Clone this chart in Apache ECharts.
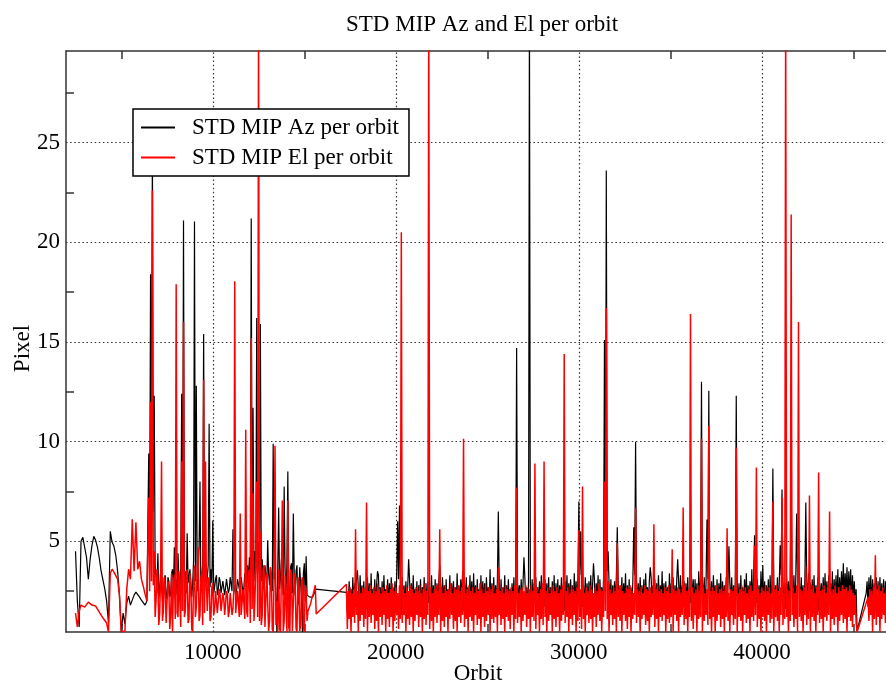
<!DOCTYPE html>
<html>
<head>
<meta charset="utf-8">
<script src="https://cdn.jsdelivr.net/npm/echarts@6/dist/echarts.min.js"></script>
<style>html,body{margin:0;padding:0;background:#fff}#c{width:886px;height:682px}</style>
</head>
<body>
<div id="c"></div>
<script>
// ---- Data ----
// Three sampled stretches of orbits: [first orbit, orbit spacing]
const earlyOrbits = [2500, 100];   // 2500 .. 6400
const midOrbits   = [6500, 50];    // 6500 .. 15700
const lateOrbits  = [17300, 50];   // 17300 .. 46900 (no data 15700-17300: line bridges it)

// STD MIP Az per orbit (black)
const azEarly = [
  4.5, 2.0, 0.7, 5.0, 5.2, 5.1, 4.2, 3.1, 4.1, 4.8,
  5.25, 5.05, 4.7, 4.15, 3.5, 3.05, 2.6, 2.0, 0.9, 5.5,
  4.95, 4.75, 4.3, 3.5, 2.3, 0.45, 1.4, 0.85, 1.9, 2.25,
  1.8, 2.05, 2.3, 2.45, 2.5, 2.2, 2.05, 1.95, 1.8, 2.0
];
const azMid = [
  9.4, 5.0, 18.4, 8.0, 25.0, 6.5, 12.3, 3.8, 3.2, 2.4, 4.4, 2.1, 2.6, 3.5, 3.4, 2.0, 2.2, 3.1, 3.3, 2.3,
  2.1, 3.2, 3.0, 2.2, 2.4, 3.4, 3.6, 2.5, 4.7, 2.8, 3.1, 2.3, 4.4, 3.0, 2.6, 3.7, 12.4, 2.9, 21.1, 3.3,
  3.5, 2.4, 5.4, 2.9, 2.8, 3.6, 3.7, 2.2, 2.9, 4.0, 21.05, 3.0, 12.8, 2.5, 3.4, 4.7, 8.0, 2.6, 3.1, 3.9,
  15.4, 3.1, 4.0, 2.5, 3.2, 3.8, 10.9, 2.7, 3.6, 2.9, 6.05, 2.4, 2.7, 3.1, 3.3, 2.3, 2.6, 3.2, 3.0, 2.4,
  2.5, 3.0, 2.9, 2.3, 2.4, 3.1, 3.1, 2.4, 2.6, 3.2, 3.2, 2.5, 5.6, 2.8, 2.9, 2.3, 2.5, 3.1, 3.0, 2.6,
  2.6, 3.2, 3.1, 2.4, 2.7, 3.4, 3.3, 2.6, 3.8, 2.9, 4.2, 3.3, 21.2, 3.5, 11.7, 3.0, 4.5, 3.6, 16.2, 3.4,
  5.0, 3.3, 15.9, 3.0, 4.1, 2.6, 3.2, 3.8, 3.9, 2.7, 5.05, 3.4, 2.8, 3.7, 3.6, 2.5, 9.9, 3.1, 3.4, 2.2,
  0.45, 3.6, 6.7, 2.6, 3.2, 4.1, 4.0, 2.3, 7.75, 3.5, 2.5, 3.9, 8.5, 2.8, 0.5, 3.7, 3.9, 2.4, 6.4, 3.3,
  2.3, 3.5, 3.8, 1.8, 2.0, 3.7, 3.6, 2.1, 0.45, 3.4, 3.9, 2.0, 4.25, 2.3, 2.2, 2.2, 2.2, 2.2, 2.2, 2.2,
  2.25, 2.4, 2.6, 2.62, 2.63
];
const azLate = [
  2.44, 1.4, 1.6, 3.0, 1.9, 2.6, 1.5, 3.2, 1.8, 2.9, 1.7, 3.1, 3.55, 2.7, 1.6, 3.3, 1.9, 2.8, 1.5, 3.0,
  1.8, 2.7, 1.6, 3.2, 1.9, 2.9, 1.4, 3.4, 1.7, 2.6, 2.0, 3.1, 1.6, 2.8, 3.5, 3.3, 1.8, 2.7, 1.5, 3.0,
  1.7, 3.3, 1.9, 2.6, 1.5, 3.1, 1.8, 2.9, 1.6, 3.2, 2.0, 2.7, 1.4, 3.0, 1.7, 3.4, 6.0, 3.1, 6.8, 2.6,
  1.3, 3.2, 1.8, 2.8, 1.6, 3.0, 1.9, 2.7, 4.1, 3.1, 1.5, 2.9, 1.7, 3.3, 1.8, 2.6, 1.6, 3.0, 1.4, 2.8,
  1.9, 3.1, 1.6, 2.7, 1.8, 3.2, 1.5, 2.9, 1.7, 3.0, 1.9, 2.6, 1.6, 3.3, 1.8, 2.8, 1.5, 3.1, 1.7, 2.9,
  1.8, 3.0, 3.8, 2.7, 1.6, 3.2, 1.9, 2.8, 1.5, 3.1, 1.7, 2.6, 1.8, 3.3, 1.6, 2.9, 1.9, 3.0, 1.4, 2.7,
  1.7, 3.4, 1.8, 2.8, 1.6, 3.1, 1.9, 3.5, 1.5, 2.9, 1.7, 3.2, 1.8, 2.7, 1.6, 3.3, 1.9, 3.0, 1.5, 3.4,
  1.8, 2.8, 1.6, 3.1, 1.9, 2.6, 1.7, 3.3, 1.5, 3.0, 1.8, 2.9, 1.6, 3.2, 1.9, 2.7, 1.7, 3.6, 1.5, 2.9,
  1.8, 3.2, 1.6, 2.8, 1.9, 3.0, 6.5, 2.9, 1.7, 3.1, 1.5, 2.7, 1.8, 3.3, 1.6, 2.8, 1.9, 3.1, 1.7, 2.6,
  1.5, 2.9, 1.8, 3.2, 1.6, 2.7, 14.7, 3.0, 1.9, 2.8, 1.7, 3.1, 1.6, 2.9, 4.2, 3.2, 1.8, 2.7, 1.5, 3.0,
  32, 2.8, 1.7, 3.1, 1.6, 2.9, 1.9, 3.2, 1.5, 2.7, 1.8, 3.0, 1.6, 3.3, 1.9, 2.8, 1.7, 3.1, 1.5, 2.9,
  1.8, 3.2, 1.6, 2.7, 1.9, 3.0, 1.7, 3.3, 1.5, 2.9, 1.8, 3.1, 1.6, 2.8, 1.9, 3.2, 1.7, 2.6, 1.5, 3.0,
  1.8, 3.3, 1.6, 2.9, 1.9, 3.1, 1.7, 2.8, 1.5, 3.4, 1.8, 3.0, 1.6, 3.2, 7.0, 3.3, 5.5, 3.0, 1.7, 2.8,
  1.6, 3.2, 1.8, 2.9, 1.5, 3.0, 1.9, 3.3, 1.7, 2.8, 3.9, 3.1, 1.6, 2.9, 1.8, 3.3, 1.5, 3.1, 1.9, 2.7,
  1.7, 3.2, 15.1, 3.0, 23.6, 3.5, 4.5, 2.9, 1.8, 3.1, 1.6, 2.8, 1.9, 3.0, 1.7, 3.3, 5.7, 3.0, 1.6, 2.8,
  1.8, 3.2, 1.6, 2.9, 1.9, 3.4, 1.5, 2.8, 1.7, 3.1, 1.8, 2.7, 1.6, 3.0, 5.7, 3.3, 10.0, 3.1, 1.8, 2.9,
  1.6, 3.2, 1.9, 2.8, 1.7, 3.1, 1.5, 3.4, 1.8, 2.7, 1.6, 3.0, 3.7, 3.2, 1.9, 2.8, 1.7, 3.1, 1.5, 2.9,
  1.8, 3.3, 1.6, 2.8, 1.9, 3.5, 1.7, 2.9, 1.5, 3.0, 1.8, 2.7, 1.6, 3.4, 1.9, 2.9, 1.7, 3.2, 1.5, 2.8,
  1.8, 3.1, 4.1, 3.0, 1.6, 3.3, 1.9, 2.8, 1.7, 3.0, 1.5, 2.9, 1.8, 3.2, 1.6, 2.7, 1.9, 3.4, 1.7, 3.1,
  1.5, 3.1, 1.8, 2.9, 1.6, 3.5, 1.9, 3.2, 13.0, 3.0, 1.7, 3.2, 1.5, 2.9, 6.1, 3.1, 12.55, 2.9, 1.8, 3.0,
  1.6, 3.3, 1.9, 2.8, 1.7, 3.1, 1.5, 2.9, 1.8, 3.4, 1.6, 3.0, 1.9, 2.8, 1.7, 3.2, 1.5, 3.0, 4.75, 2.9,
  1.8, 3.2, 1.6, 2.8, 1.9, 3.0, 12.3, 3.1, 1.7, 2.9, 1.5, 3.3, 1.8, 2.7, 1.6, 3.1, 1.9, 3.4, 1.7, 2.8,
  1.5, 3.0, 1.8, 3.6, 1.6, 3.2, 5.3, 2.9, 1.9, 3.1, 1.7, 2.8, 1.5, 3.5, 1.8, 3.8, 1.6, 3.0, 1.9, 2.8,
  1.7, 3.1, 1.5, 3.3, 1.8, 2.9, 8.65, 3.0, 1.6, 2.8, 1.9, 3.2, 1.7, 2.9, 4.8, 3.3, 7.6, 3.0, 1.8, 2.9,
  1.6, 3.2, 1.9, 3.0, 1.7, 3.1, 8.2, 2.9, 1.5, 3.3, 1.8, 3.0, 6.4, 3.2, 4.0, 2.9, 1.7, 3.2, 1.9, 2.8,
  1.6, 3.1, 6.95, 3.0, 1.8, 3.4, 1.5, 2.9, 1.9, 3.1, 1.7, 3.3, 1.6, 2.8, 1.8, 3.2, 1.5, 3.0, 1.9, 2.9,
  1.7, 3.2, 1.6, 3.4, 1.9, 3.0, 1.5, 3.3, 1.8, 2.9, 1.7, 3.5, 1.6, 3.1, 1.9, 3.3, 1.8, 3.6, 1.7, 3.2,
  2.0, 3.5, 2.2, 3.9, 2.1, 3.4, 2.3, 3.7, 2.0, 3.5, 2.2, 3.6, 1.9, 3.3, 2.1, 3.0, 1.8, 2.6, 0.5, null,
  null, null, null, null, null, null, null, null, 2.4, 3.0, 1.7, 3.2, 1.9, 3.3, 1.6, 3.1, 1.8, 2.9, 1.5, 3.2,
  1.8, 3.0, 1.6, 3.2, 1.9, 2.9, 1.7, 3.1, 1.5, 3.0, 1.8, 2.9, 2.6
];

// STD MIP El per orbit (red)
const elEarly = [
  1.4, 0.7, 1.5, 1.8, 1.85, 1.7, 1.8, 1.95, 2.05, 1.8,
  1.7, 1.75, 1.65, 1.45, 1.3, 1.15, 1.05, 0.9, 0.45, 3.4,
  3.6, 3.45, 3.4, 3.1, 2.3, 0.45, 0.45, 0.5, 2.6, 3.6,
  3.1, 6.1, 3.5, 5.95, 3.6, 4.0, 3.1, 2.75, 2.35, 2.0
];
const elMid = [
  7.2, 2.5, 12.0, 3.0, 22.6, 2.8, 4.5, 1.2, 2.0, 3.6, 3.1, 0.8, 1.4, 3.3, 9.0, 1.0, 1.5, 3.2, 2.8, 0.9,
  0.8, 3.0, 2.6, 0.6, 1.3, 3.4, 0.45, 2.9, 3.3, 1.1, 17.9, 1.4, 1.2, 3.5, 3.4, 0.7, 9.0, 1.5, 16.0, 1.2,
  1.5, 3.2, 3.6, 0.9, 1.1, 3.4, 2.9, 0.6, 0.45, 3.0, 3.8, 1.2, 1.7, 3.6, 4.7, 1.0, 1.3, 3.1, 3.4, 0.8,
  13.1, 1.4, 9.0, 2.8, 1.5, 3.0, 3.2, 1.0, 1.2, 2.7, 2.9, 1.3, 1.6, 2.5, 2.4, 1.4, 1.4, 2.6, 2.3, 1.5,
  1.5, 2.4, 2.1, 1.3, 1.4, 2.5, 2.3, 1.2, 1.5, 2.4, 2.5, 1.3, 1.6, 2.6, 18.05, 1.4, 1.5, 2.5, 2.6, 1.2,
  6.4, 1.3, 1.4, 2.6, 2.7, 1.1, 10.6, 1.5, 1.2, 3.4, 3.6, 0.9, 15.2, 1.6, 7.4, 1.0, 2.0, 3.7, 8.0, 1.2,
  32, 1.0, 5.5, 0.8, 1.3, 3.6, 3.8, 0.7, 0.6, 3.4, 3.5, 0.5, 1.0, 3.7, 3.2, 0.6, 0.45, 3.3, 9.8, 0.8,
  2.0, 0.45, 3.6, 0.6, 0.45, 3.5, 7.05, 0.5, 1.0, 3.3, 3.4, 0.45, 7.05, 0.7, 0.45, 3.6, 3.3, 0.5, 0.6, 3.4,
  3.0, 0.6, 0.45, 3.2, 2.9, 0.5, 0.8, 3.0, 3.2, 0.7, 0.45, 2.8, 2.5, 1.0, 1.5, 1.6, 1.75, 1.9, 2.1, 2.25,
  2.4, 2.6, 2.8, 1.35, 1.3
];
const elLate = [
  2.85, 0.6, 2.5, 1.1, 2.7, 0.45, 2.4, 1.2, 2.6, 0.9, 5.6, 1.3, 2.5, 0.45, 2.8, 1.0, 2.4, 1.3, 2.7, 0.7,
  2.6, 1.1, 6.95, 0.45, 2.5, 1.2, 2.8, 0.9, 2.4, 1.3, 2.7, 0.6, 2.5, 1.0, 2.9, 0.45, 2.6, 1.2, 2.4, 0.8,
  2.7, 1.3, 2.5, 0.45, 2.8, 1.1, 2.4, 0.7, 2.6, 1.2, 2.9, 0.45, 2.5, 1.0, 2.7, 1.3, 2.4, 0.6, 2.8, 1.1,
  20.5, 0.9, 2.6, 1.3, 2.4, 0.45, 2.7, 1.1, 2.5, 0.8, 2.8, 1.2, 2.6, 0.45, 2.4, 1.0, 2.7, 1.3, 2.5, 0.7,
  2.8, 1.2, 2.4, 0.45, 2.6, 1.1, 2.9, 0.8, 2.5, 1.3, 32, 0.6, 2.7, 1.0, 2.4, 0.45, 2.6, 1.2, 2.8, 0.9,
  2.5, 1.3, 5.6, 0.45, 2.7, 1.0, 2.4, 0.7, 2.8, 1.2, 2.5, 0.45, 2.6, 1.1, 2.9, 1.3, 2.4, 0.6, 2.7, 1.0,
  2.6, 0.45, 2.8, 1.2, 2.5, 0.9, 2.7, 1.3, 10.15, 0.7, 2.4, 1.1, 2.6, 0.45, 2.8, 1.2, 2.5, 1.0, 2.7, 0.45,
  2.4, 1.3, 2.7, 0.8, 2.5, 1.1, 2.9, 0.45, 2.6, 1.2, 2.4, 0.7, 2.8, 1.0, 2.5, 1.3, 2.7, 0.45, 2.6, 1.1,
  2.8, 0.9, 2.4, 1.2, 2.6, 0.45, 3.7, 1.3, 2.5, 0.8, 2.7, 1.1, 2.4, 0.45, 2.8, 1.2, 2.6, 1.0, 2.5, 0.6,
  2.7, 1.3, 2.5, 0.45, 2.8, 1.1, 7.7, 0.9, 2.4, 1.2, 2.6, 0.45, 2.7, 1.0, 2.5, 1.3, 2.8, 0.7, 2.4, 1.1,
  2.6, 0.45, 2.8, 1.2, 2.5, 1.0, 8.9, 0.6, 2.7, 1.3, 2.4, 0.45, 2.6, 1.1, 2.9, 0.8, 9.0, 1.2, 2.5, 0.45,
  2.7, 1.0, 2.4, 1.3, 2.6, 0.45, 2.8, 1.1, 2.5, 0.7, 2.7, 1.2, 2.4, 0.45, 2.6, 1.0, 2.8, 1.3, 14.4, 0.9,
  2.5, 1.2, 2.7, 0.45, 2.4, 1.1, 2.8, 0.8, 2.6, 1.3, 2.5, 0.45, 2.7, 1.0, 5.55, 1.2, 2.6, 0.6, 7.75, 1.1,
  2.4, 0.45, 2.7, 1.3, 2.5, 0.9, 2.8, 1.1, 2.6, 0.45, 2.4, 1.2, 2.7, 0.7, 2.5, 1.3, 2.9, 1.0, 2.6, 0.45,
  2.5, 1.2, 8.0, 1.5, 16.7, 1.1, 3.0, 0.45, 2.6, 1.3, 2.4, 0.8, 2.7, 1.1, 2.5, 0.45, 4.9, 1.2, 2.6, 1.0,
  2.8, 0.45, 2.5, 1.3, 2.4, 1.0, 2.7, 0.6, 2.6, 1.2, 2.8, 0.45, 2.5, 1.1, 2.4, 1.3, 6.7, 0.9, 2.6, 1.2,
  2.5, 0.45, 2.7, 1.1, 2.4, 1.3, 2.8, 0.8, 2.6, 1.0, 2.5, 0.45, 2.7, 1.2, 2.4, 1.3, 5.85, 0.7, 2.6, 1.1,
  2.8, 0.45, 2.5, 1.2, 2.6, 1.0, 2.4, 1.3, 2.7, 0.45, 2.5, 1.1, 2.8, 0.9, 2.4, 1.2, 4.6, 0.45, 2.6, 1.3,
  2.5, 1.0, 2.7, 0.45, 2.6, 1.2, 2.4, 1.3, 6.7, 0.8, 2.8, 1.1, 2.5, 0.45, 2.6, 1.2, 16.4, 1.0, 2.7, 0.6,
  2.4, 1.3, 2.6, 0.45, 2.8, 1.1, 2.5, 1.2, 10.15, 0.45, 2.7, 1.0, 2.4, 1.3, 2.6, 0.8, 10.8, 1.1, 2.5, 0.45,
  2.7, 1.2, 2.5, 0.45, 2.8, 1.0, 2.4, 1.3, 2.6, 0.7, 2.7, 1.1, 2.5, 0.45, 2.8, 1.2, 5.65, 1.0, 2.4, 0.45,
  2.6, 1.3, 2.5, 0.8, 2.7, 1.1, 9.7, 0.45, 2.4, 1.2, 2.6, 1.0, 2.8, 0.45, 2.5, 1.3, 2.7, 0.9, 2.4, 1.1,
  2.6, 0.45, 2.8, 1.2, 2.5, 1.0, 4.8, 1.3, 8.7, 0.7, 2.6, 1.1, 2.4, 0.45, 2.7, 1.2, 2.5, 1.0, 2.8, 0.45,
  2.5, 1.3, 2.7, 0.9, 2.4, 1.1, 7.0, 0.45, 2.6, 1.2, 2.8, 1.0, 2.5, 0.45, 2.7, 1.3, 7.2, 0.8, 2.4, 1.1,
  32, 1.2, 2.6, 0.45, 2.5, 1.0, 21.4, 1.3, 2.7, 0.7, 2.4, 1.1, 2.8, 0.45, 16.0, 1.2, 2.6, 1.0, 2.5, 0.45,
  2.7, 1.3, 3.75, 0.8, 2.5, 1.1, 7.3, 0.45, 2.6, 1.2, 2.8, 1.0, 2.4, 0.45, 2.7, 1.3, 8.45, 0.9, 2.5, 1.1,
  2.6, 0.45, 2.8, 1.2, 2.4, 1.0, 2.7, 1.3, 6.5, 0.45, 2.5, 1.1, 2.6, 0.8, 2.8, 1.2, 2.4, 0.45, 2.7, 1.0,
  2.5, 1.3, 2.8, 0.9, 2.6, 1.1, 2.7, 0.45, 2.5, 1.2, 2.8, 1.0, 2.6, 0.7, 2.4, 1.3, 2.3, 0.9, 0.45, null,
  null, null, null, null, null, null, null, null, null, null, 2.2, 1.0, 2.6, 1.3, 2.5, 0.45, 2.7, 1.1, 4.3, 0.8,
  2.6, 1.2, 2.8, 0.45, 2.5, 1.1, 2.7, 1.3, 2.4, 0.9, 2.6, 1.2, 1.4
];

// Axis ticks and labels
const xMajor = [10000, 20000, 30000, 40000];
const xMinor = [5000, 15000, 25000, 35000, 45000];
const yMajor = [5, 10, 15, 20, 25];
const yMinor = [2.5, 7.5, 12.5, 17.5, 22.5, 27.5];

const seriesNames = ['STD MIP Az per orbit', 'STD MIP El per orbit'];

function toPairs(values, orbits) {
  return values.map((v, i) => [orbits[0] + i * orbits[1], v]);
}
function join(early, mid, late) {
  return toPairs(early, earlyOrbits).concat(toPairs(mid, midOrbits), toPairs(late, lateOrbits));
}

const FONT = 'Liberation Serif';
const axisLineStyle = { color: '#333', width: 1.5 };
const gridLineStyle = { type: [1.5, 2.6], color: '#333', width: 1.2 };
const textBase = { fontFamily: FONT, fontSize: 23, color: '#000' };
const plain = v => String(v);

const chart = echarts.init(document.getElementById('c'), null, { renderer: 'canvas' });
chart.setOption({
  animation: false,
  backgroundColor: '#fff',
  title: {
    text: 'STD MIP Az and El per orbit',
    left: 341, top: 8,
    textStyle: Object.assign({ fontWeight: 'normal' }, textBase)
  },
  legend: {
    orient: 'vertical', left: 133, top: 109,
    padding: [7, 10, 7, 8], itemGap: 7,
    itemWidth: 34, itemHeight: 2, icon: 'rect',
    borderColor: '#000', borderWidth: 1.5, backgroundColor: '#fff',
    textStyle: Object.assign({}, textBase, { padding: [0, 0, 0, 12] }),
    data: seriesNames
  },
  grid: { left: 66, top: 51, width: 824, height: 581, outerBoundsMode: 'none', containLabel: false },
  xAxis: [
    {
      type: 'value', min: 1980, max: 47000, position: 'bottom',
      axisLine: { show: true, onZero: false, lineStyle: axisLineStyle },
      axisTick: { show: true, inside: true, length: 8, customValues: xMinor, lineStyle: axisLineStyle },
      axisLabel: Object.assign({ customValues: xMajor, margin: 9, formatter: plain }, textBase),
      splitLine: { show: false },
      name: 'Orbit', nameLocation: 'middle', nameGap: 30, nameMoveOverlap: false,
      nameTextStyle: textBase
    },
    {
      type: 'value', min: 1980, max: 47000, position: 'top',
      axisLine: { show: true, onZero: false, lineStyle: axisLineStyle },
      axisTick: { show: true, inside: true, length: 8, customValues: xMinor, lineStyle: axisLineStyle },
      axisLabel: { show: false },
      splitLine: { show: false }
    }
  ],
  yAxis: {
    type: 'value', min: 0.45, max: 29.6,
    axisLine: { show: true, onZero: false, lineStyle: axisLineStyle },
    axisTick: { show: true, inside: true, length: 8, customValues: yMinor, lineStyle: axisLineStyle },
    axisLabel: Object.assign({ customValues: yMajor, margin: 6, formatter: plain }, textBase),
    splitLine: { show: false },
    name: 'Pixel', nameLocation: 'middle', nameGap: 32, nameMoveOverlap: false,
    nameTextStyle: Object.assign({}, textBase, { padding: [0, 14, 0, 0] })
  },
  series: [
    {
      name: seriesNames[0], type: 'line', data: join(azEarly, azMid, azLate),
      showSymbol: false, symbol: 'none', connectNulls: true,
      lineStyle: { color: '#000', width: 1.2 }, itemStyle: { color: '#000' },
      z: 2, silent: true,
      markLine: {
        silent: true, symbol: ['none', 'none'], label: { show: false }, z: 1,
        lineStyle: gridLineStyle,
        emphasis: { disabled: true },
        data: xMajor.map(v => ({ xAxis: v })).concat(yMajor.map(v => ({ yAxis: v })))
      }
    },
    {
      name: seriesNames[1], type: 'line', data: join(elEarly, elMid, elLate),
      showSymbol: false, symbol: 'none', connectNulls: true,
      lineStyle: { color: '#ff0000', width: 1.5 }, itemStyle: { color: '#ff0000' },
      z: 3, silent: true
    }
  ]
});
</script>
</body>
</html>
